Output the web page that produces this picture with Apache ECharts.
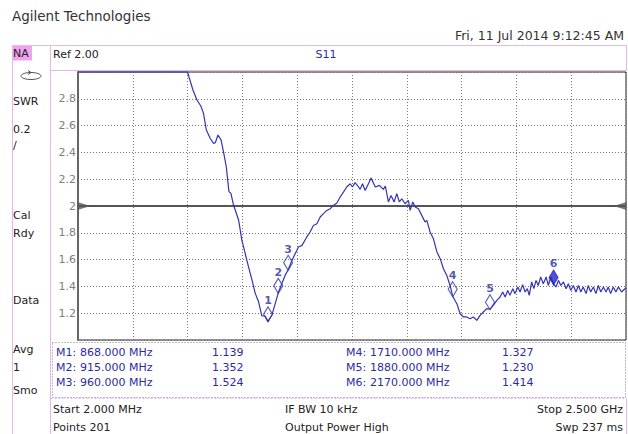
<!DOCTYPE html>
<html><head><meta charset="utf-8">
<script src="https://cdn.jsdelivr.net/npm/echarts@6/dist/echarts.min.js"></script>
<style>html,body{margin:0;padding:0;background:#fff}#c{width:628px;height:434px}</style>
</head><body><div id="c"></div>
<script>
// ---- data ----
const traceFreqMHz = [2, 501, 526, 544, 562, 574, 587, 605, 620, 628, 640, 654, 665, 678, 690, 699, 711, 734, 749, 764, 779, 795, 810, 825, 840, 855, 868, 886, 901, 915, 931, 946, 960, 977, 992, 1007, 1023, 1045, 1060, 1075, 1091, 1106, 1121, 1136, 1152, 1166, 1182, 1197, 1212, 1227, 1243, 1253, 1265, 1278, 1288, 1299, 1311, 1326, 1338, 1357, 1376, 1394, 1403, 1417, 1429, 1443, 1455, 1467, 1478, 1493, 1508, 1516, 1528, 1539, 1554, 1569, 1584, 1592, 1607, 1622, 1638, 1653, 1668, 1683, 1698, 1710, 1729, 1744, 1759, 1774, 1789, 1804, 1820, 1835, 1850, 1865, 1880, 1895, 1911, 1926, 1938, 1949, 1961, 1971, 1984, 1994, 2007, 2017, 2029, 2040, 2050, 2059, 2070, 2080, 2090, 2100, 2111, 2123, 2136, 2146, 2157, 2170, 2181, 2192, 2203, 2215, 2227, 2237, 2248, 2260, 2272, 2283, 2294, 2305, 2318, 2328, 2339, 2351, 2363, 2374, 2385, 2397, 2409, 2419, 2430, 2442, 2454, 2465, 2480, 2500];
const traceSWR = [3.0, 3.0, 2.866, 2.791, 2.746, 2.691, 2.567, 2.504, 2.467, 2.472, 2.53, 2.493, 2.405, 2.293, 2.107, 2.094, 2.007, 1.896, 1.746, 1.646, 1.547, 1.448, 1.348, 1.286, 1.179, 1.179, 1.139, 1.187, 1.271, 1.352, 1.42, 1.482, 1.524, 1.594, 1.644, 1.694, 1.706, 1.769, 1.806, 1.855, 1.868, 1.918, 1.943, 1.967, 1.98, 2.004, 2.022, 2.067, 2.104, 2.142, 2.166, 2.142, 2.174, 2.149, 2.124, 2.166, 2.116, 2.166, 2.209, 2.142, 2.154, 2.124, 2.149, 2.03, 2.079, 2.03, 2.092, 2.03, 2.054, 2.017, 2.042, 1.967, 2.03, 1.993, 1.98, 1.93, 1.881, 1.893, 1.806, 1.756, 1.657, 1.607, 1.532, 1.482, 1.407, 1.327, 1.271, 1.196, 1.172, 1.172, 1.159, 1.172, 1.146, 1.184, 1.209, 1.234, 1.230, 1.258, 1.296, 1.321, 1.358, 1.321, 1.37, 1.333, 1.383, 1.346, 1.396, 1.358, 1.413, 1.358, 1.383, 1.333, 1.433, 1.383, 1.445, 1.407, 1.47, 1.42, 1.47, 1.407, 1.47, 1.414, 1.396, 1.445, 1.407, 1.433, 1.383, 1.42, 1.37, 1.407, 1.358, 1.407, 1.358, 1.396, 1.346, 1.407, 1.358, 1.396, 1.346, 1.407, 1.358, 1.396, 1.358, 1.396, 1.346, 1.396, 1.358, 1.396, 1.358, 1.39];
const markerNames = ['1', '2', '3', '4', '5', '6'];
const markerFreqMHz = [868, 915, 960, 1710, 1880, 2170];
const markerSWR = [1.139, 1.352, 1.524, 1.327, 1.230, 1.414];
const activeMarker = '6';
const refValue = 2.0;
const yMin = 1.0, yMax = 3.0, yStep = 0.2;
const startMHz = 2, stopMHz = 2500, xDivisions = 10;
const sideLabels = [['NA', 53], ['SWR', 101], ['0.2', 129], ['/', 145], ['Cal', 215], ['Rdy', 233], ['Data', 300], ['Avg', 349], ['1', 367], ['Smo', 390]];
const footerLeft = ['Start 2.000 MHz', 'Points 201'];
const footerMid = ['IF BW 10 kHz', 'Output Power High'];
const footerRight = ['Stop 2.500 GHz', 'Swp 237 ms'];
const titleText = 'Agilent Technologies';
const dateText = 'Fri, 11 Jul 2014 9:12:45 AM';
const refText = 'Ref 2.00';
const measText = 'S11';

// ---- styling ----
const BLUE = '#3434b4';
const TXTBLUE = '#2c2c9c';
const PINK = '#e6b8e6';
const F = 'DejaVu Sans';
const txt = (text, x, y, opt = {}) => ({
  type: 'text', silent: true,
  style: Object.assign({ text, x, y, fill: '#222', font: '11px "' + F + '"', textVerticalAlign: 'middle', textAlign: 'left' }, opt)
});
const line = (x1, y1, x2, y2, stroke, dash) => ({
  type: 'line', silent: true, shape: { x1, y1, x2, y2 },
  style: { stroke, lineWidth: 1, lineDash: dash || null }
});

const graphics = [];
graphics.push(txt(titleText, 12, 16, { font: '13.5px "' + F + '"', fill: '#333' }));
graphics.push(txt(dateText, 624, 35, { font: '12.5px "' + F + '"', fill: '#333', textAlign: 'right' }));
// frame
graphics.push({ type: 'rect', silent: true, shape: { x: 13, y: 45.5, width: 19, height: 15 }, style: { fill: '#f0a4f0' } });
graphics.push(line(12.5, 45.5, 626.5, 45.5, PINK));
graphics.push(line(12.5, 45.5, 12.5, 434, PINK));
graphics.push(line(50.5, 45.5, 50.5, 434, PINK));
graphics.push(line(626.5, 45.5, 626.5, 71, PINK));
graphics.push(line(50.5, 70.5, 626.5, 70.5, PINK));
graphics.push(line(50.5, 398.5, 626.5, 398.5, PINK, [2, 2]));
graphics.push(line(626.5, 398.5, 626.5, 434, PINK));
// marker table dotted box
graphics.push({ type: 'rect', silent: true, shape: { x: 52.5, y: 342.5, width: 573, height: 55 }, style: { fill: 'none', stroke: '#7878a8', lineWidth: 1, lineDash: [1, 2] } });
// side icon
graphics.push({ type: 'ellipse', silent: true, shape: { cx: 31, cy: 76, rx: 10, ry: 3.5 }, style: { fill: 'none', stroke: '#555', lineWidth: 1 } });
graphics.push({ type: 'polyline', silent: true, shape: { points: [[28, 70.5], [31, 72.5], [28, 74.5]] }, style: { fill: 'none', stroke: '#555', lineWidth: 1 } });
sideLabels.forEach(([t, y]) => graphics.push(txt(t, 13, y, { fill: '#222' })));
graphics.push(txt(refText, 53, 54, { fill: '#222' }));
graphics.push(txt(measText, 326, 54, { fill: TXTBLUE, textAlign: 'center' }));
// marker table
markerNames.forEach((n, i) => {
  const col = i < 3 ? 0 : 1;
  const row = i % 3;
  const y = 352 + row * 15;
  const xb = col === 0 ? 56 : 346;
  graphics.push(txt('M' + n + ':', xb, y, { fill: TXTBLUE }));
  graphics.push(txt(markerFreqMHz[i].toFixed(3) + ' MHz', xb + 24, y, { fill: TXTBLUE }));
  graphics.push(txt(markerSWR[i].toFixed(3), xb + 156, y, { fill: TXTBLUE }));
});
footerLeft.forEach((t, r) => graphics.push(txt(t, 53, 409 + r * 18)));
footerMid.forEach((t, r) => graphics.push(txt(t, 285, 409 + r * 18)));
footerRight.forEach((t, r) => graphics.push(txt(t, 623, 409 + r * 18, { textAlign: 'right' })));

const traceData = traceFreqMHz.map((f, i) => [f, traceSWR[i]]);
const openMarkers = [], filledMarkers = [];
markerNames.forEach((n, i) => {
  const d = { name: n, value: [markerFreqMHz[i], markerSWR[i]] };
  (n === activeMarker ? filledMarkers : openMarkers).push(d);
});
const markerLabel = { show: true, position: 'top', distance: 0, formatter: '{b}', color: TXTBLUE, fontWeight: 'bold', fontSize: 11, fontFamily: F };

const chart = echarts.init(document.getElementById('c'), null, { renderer: 'svg' });
chart.setOption({
  animation: false,
  backgroundColor: '#fff',
  grid: { left: 78, top: 72, width: 548, height: 268, show: true, borderColor: '#222', borderWidth: 1, backgroundColor: 'transparent' },
  xAxis: [
    { type: 'value', min: startMHz, max: stopMHz, axisLine: { show: false }, axisTick: { show: false }, axisLabel: { show: false }, splitLine: { show: false } },
    { type: 'value', min: 0, max: xDivisions, interval: 1, position: 'bottom', axisLine: { show: false }, axisTick: { show: false }, axisLabel: { show: false },
      splitLine: { show: true, lineStyle: { color: '#777', type: [1, 2], width: 1 } } }
  ],
  yAxis: {
    type: 'value', min: yMin, max: yMax, interval: yStep,
    axisLine: { show: true, lineStyle: { color: '#666', width: 2 } },
    axisTick: { show: false },
    axisLabel: { color: '#808080', fontSize: 11, fontFamily: F, margin: 2, showMinLabel: false, showMaxLabel: false },
    splitLine: { show: true, lineStyle: { color: '#777', type: [1, 2], width: 1 } }
  },
  graphic: graphics,
  series: [
    {
      type: 'line', xAxisIndex: 0, data: traceData, showSymbol: false, clip: false, z: 5,
      lineStyle: { color: BLUE, width: 1.2 },
      markLine: { silent: true, symbol: 'none', label: { show: false }, lineStyle: { color: '#555', width: 2, type: 'solid' }, data: [{ yAxis: refValue }], z: 3 }
    },
    {
      type: 'scatter', xAxisIndex: 0, z: 4, silent: true,
      data: [{ value: [startMHz, refValue], symbolRotate: -90, symbolOffset: [6, 0] }, { value: [stopMHz, refValue], symbolRotate: 90, symbolOffset: [-6, 0] }],
      symbol: 'triangle', symbolSize: [8, 13], itemStyle: { color: '#555' }
    },
    {
      type: 'scatter', xAxisIndex: 0, z: 6, data: openMarkers, symbol: 'diamond', symbolSize: [9, 15], symbolOffset: [0, -7],
      itemStyle: { color: 'rgba(255,255,255,0)', borderColor: BLUE, borderWidth: 1.2 }, label: markerLabel
    },
    {
      type: 'scatter', xAxisIndex: 0, z: 6, data: filledMarkers, symbol: 'diamond', symbolSize: [9, 15], symbolOffset: [0, -7],
      itemStyle: { color: '#2424c8', borderColor: '#2424c8', borderWidth: 1 }, label: markerLabel
    }
  ]
});
</script></body></html>
